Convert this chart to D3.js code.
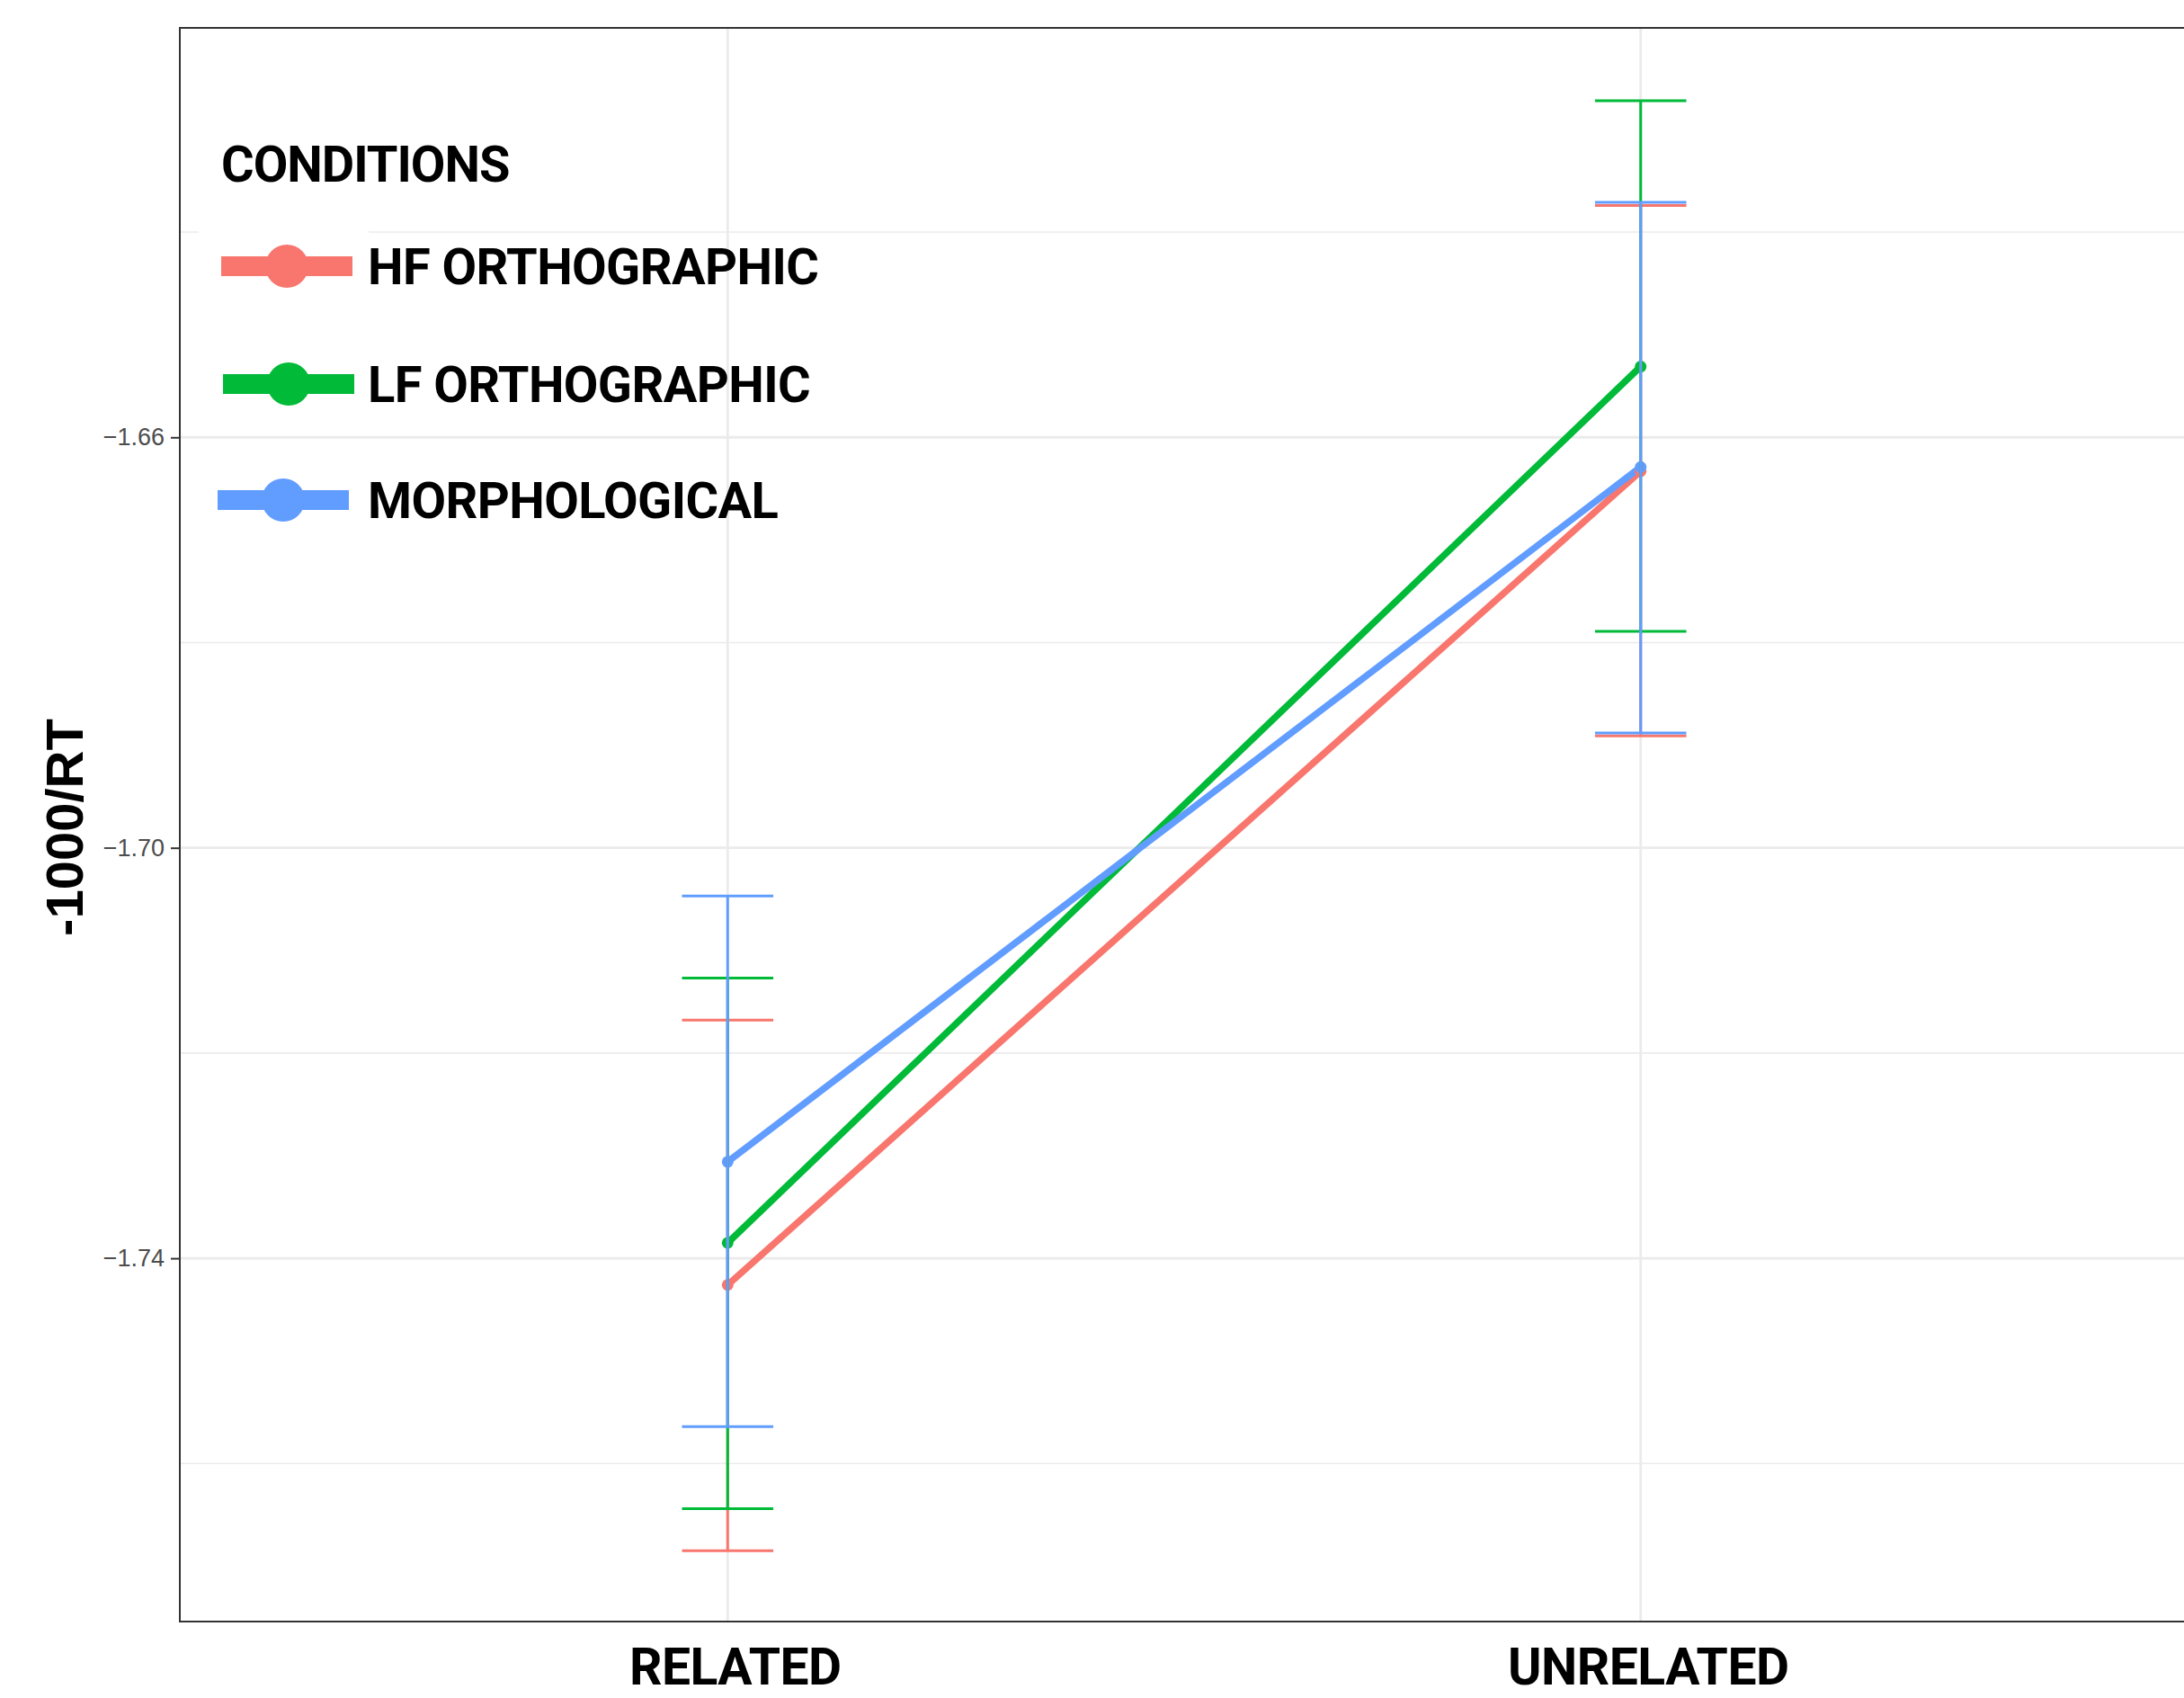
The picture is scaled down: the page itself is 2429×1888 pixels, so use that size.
<!DOCTYPE html>
<html>

<head>
  <title>-1000/RT by condition</title>
  <style>
    body { margin: 0; background: #fff; }
  </style>
</head>

<body>
  <svg id="svg"></svg>

  <script src="https://d3js.org/d3.v7.min.js"></script>
  <script>
    // data
    let categories = ["RELATED", "UNRELATED"];
    let conditions = ["HF ORTHOGRAPHIC", "LF ORTHOGRAPHIC", "MORPHOLOGICAL"];

    let hfMean = [-1.7426, -1.6633];
    let hfLower = [-1.7685, -1.6891];
    let hfUpper = [-1.7168, -1.6374];

    let lfMean = [-1.7385, -1.6531];
    let lfLower = [-1.7644, -1.6789];
    let lfUpper = [-1.7127, -1.6272];

    let morphMean = [-1.7306, -1.6629];
    let morphLower = [-1.7564, -1.6888];
    let morphUpper = [-1.7047, -1.6371];

    let majorTicks = [-1.74, -1.70, -1.66];
    let minorTicks = [-1.76, -1.72, -1.68, -1.64];
    let tickLabels = ["\u22121.74", "\u22121.70", "\u22121.66"];

    let colors = ["#F8766D", "#00BA38", "#619CFF"];

    let means = [hfMean, lfMean, morphMean];
    let lowers = [hfLower, lfLower, morphLower];
    let uppers = [hfUpper, lfUpper, morphUpper];

    let series = conditions.map((c, i) => ({
      name: c,
      color: colors[i],
      values: categories.map((cat, j) => ({
        cat: cat,
        mean: means[i][j],
        lo: lowers[i][j],
        hi: uppers[i][j]
      }))
    }));

    let W = 2429, H = 1888;
    let panel = { left: 200, top: 31, right: 2434, bottom: 1803 };

    let svg = d3.select("#svg").attr("width", W).attr("height", H);

    let x = d3.scalePoint().domain(categories).range([panel.left, panel.right]).padding(0.6);
    let y = d3.scaleLinear().domain([-1.7754, -1.6201]).range([panel.bottom, panel.top]);

    svg.append("defs").append("clipPath").attr("id", "clip")
      .append("rect")
      .attr("x", panel.left).attr("y", panel.top)
      .attr("width", panel.right - panel.left).attr("height", panel.bottom - panel.top);

    let plot = svg.append("g").attr("clip-path", "url(#clip)");

    // grid
    plot.selectAll(".minor").data(minorTicks).join("line")
      .attr("x1", panel.left).attr("x2", panel.right)
      .attr("y1", d => y(d)).attr("y2", d => y(d))
      .attr("stroke", "#EBEBEB").attr("stroke-width", 1.6);

    plot.selectAll(".major").data(majorTicks).join("line")
      .attr("x1", panel.left).attr("x2", panel.right)
      .attr("y1", d => y(d)).attr("y2", d => y(d))
      .attr("stroke", "#EBEBEB").attr("stroke-width", 2.8);

    plot.selectAll(".vgrid").data(categories).join("line")
      .attr("x1", d => x(d)).attr("x2", d => x(d))
      .attr("y1", panel.top).attr("y2", panel.bottom)
      .attr("stroke", "#EBEBEB").attr("stroke-width", 2.8);

    // legend key backgrounds sit over the grid
    let legendX = 221, legendKeyW = 189;
    let rowY = [296, 427, 556];
    let keyShift = [0, 2, -4];
    svg.selectAll(".keybg").data(rowY).join("rect")
      .attr("x", legendX).attr("y", d => d - 48)
      .attr("width", legendKeyW).attr("height", 96)
      .attr("fill", "#fff");

    let line = d3.line().x(d => x(d.cat)).y(d => y(d.mean));

    plot.selectAll(".series").data(series).join("path")
      .attr("d", d => line(d.values))
      .attr("fill", "none")
      .attr("stroke", d => d.color)
      .attr("stroke-width", 7.5);

    series.forEach(s => {
      plot.selectAll(null).data(s.values).join("circle")
        .attr("cx", d => x(d.cat)).attr("cy", d => y(d.mean))
        .attr("r", 6.5).attr("fill", s.color);
    });

    let capHalf = x.step() * 0.05;
    series.forEach(s => {
      let g = plot.append("g").attr("stroke", s.color).attr("stroke-width", 3);
      g.selectAll(".stem").data(s.values).join("line")
        .attr("x1", d => x(d.cat)).attr("x2", d => x(d.cat))
        .attr("y1", d => y(d.lo)).attr("y2", d => y(d.hi));
      g.selectAll(".capTop").data(s.values).join("line")
        .attr("x1", d => x(d.cat) - capHalf).attr("x2", d => x(d.cat) + capHalf)
        .attr("y1", d => y(d.hi)).attr("y2", d => y(d.hi));
      g.selectAll(".capBot").data(s.values).join("line")
        .attr("x1", d => x(d.cat) - capHalf).attr("x2", d => x(d.cat) + capHalf)
        .attr("y1", d => y(d.lo)).attr("y2", d => y(d.lo));
    });

    // panel border
    svg.append("rect")
      .attr("x", panel.left).attr("y", panel.top)
      .attr("width", panel.right - panel.left).attr("height", panel.bottom - panel.top)
      .attr("fill", "none").attr("stroke", "#333").attr("stroke-width", 2);

    // y axis
    let yAxis = svg.append("g")
      .attr("transform", `translate(${panel.left},0)`)
      .call(d3.axisLeft(y).tickValues(majorTicks).tickSize(10).tickPadding(7)
        .tickFormat((d, i) => tickLabels[i]));
    yAxis.select(".domain").remove();
    yAxis.selectAll(".tick line").attr("stroke", "#333").attr("stroke-width", 2);
    yAxis.selectAll(".tick text")
      .attr("fill", "#4D4D4D")
      .style("font-family", "'Liberation Sans', Arial, sans-serif")
      .style("font-size", "27px");

    // x axis labels
    let xAxis = svg.append("g")
      .attr("transform", `translate(0,${panel.bottom})`)
      .call(d3.axisBottom(x).tickSize(0).tickPadding(0));
    xAxis.select(".domain").remove();
    xAxis.selectAll(".tick text")
      .attr("y", 70).attr("dy", 0).attr("dx", 8)
      .attr("fill", "#000")
      .style("font-family", "Roboto, sans-serif")
      .style("font-weight", 700)
      .style("font-size", "57px")
      .style("letter-spacing", "-0.5px");

    svg.append("text")
      .attr("transform", `translate(92,920) rotate(-90)`)
      .attr("text-anchor", "middle")
      .style("font-family", "'Liberation Sans', Arial, sans-serif")
      .style("font-weight", 700)
      .style("font-size", "58px")
      .text("-1000/RT");

    // legend
    svg.append("text")
      .attr("x", 246).attr("y", 202)
      .style("font-family", "Roboto, sans-serif")
      .style("font-weight", 700)
      .style("font-size", "56px")
      .style("letter-spacing", "-1px")
      .text("CONDITIONS");

    let legend = svg.selectAll(".legend").data(series).join("g")
      .attr("transform", (d, i) => `translate(0,${rowY[i]})`);

    legend.append("line")
      .attr("x1", (d, i) => 246 + keyShift[i]).attr("x2", (d, i) => 392 + keyShift[i])
      .attr("stroke", d => d.color).attr("stroke-width", 22);
    legend.append("circle")
      .attr("cx", (d, i) => 319 + keyShift[i]).attr("r", 24)
      .attr("fill", d => d.color);
    legend.append("text")
      .attr("x", 409).attr("y", 20)
      .style("font-family", "Roboto, sans-serif")
      .style("font-weight", 700)
      .style("font-size", "56px")
      .style("letter-spacing", "-0.6px")
      .text(d => d.name);
  </script>
</body>

</html>
